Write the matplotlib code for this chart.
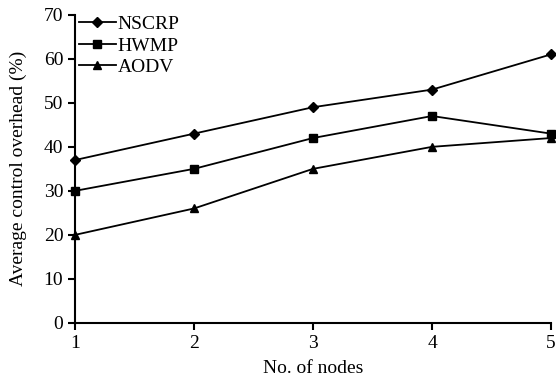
import matplotlib
matplotlib.use("Agg")
import matplotlib.pyplot as plt

nodes = [1, 2, 3, 4, 5]
nscrp = [37, 43, 49, 53, 61]
hwmp = [30, 35, 42, 47, 43]
aodv = [20, 26, 35, 40, 42]

plt.rcParams['font.family'] = ['Liberation Serif']
fig = plt.figure(figsize=(5.56, 3.79), dpi=100)
ax = fig.add_axes([0.135, 0.148, 0.856, 0.813])
ax.plot(nodes, nscrp, color='black', marker='D', markersize=5, lw=1.3, label='NSCRP')
ax.plot(nodes, hwmp, color='black', marker='s', markersize=6, lw=1.3, label='HWMP')
ax.plot(nodes, aodv, color='black', marker='^', markersize=6, lw=1.3, label='AODV')
ax.set_xlim(1, 5)
ax.set_ylim(0, 70)
ax.set_xticks(nodes)
ax.set_yticks(range(0, 71, 10))
for s in ['top', 'right']:
    ax.spines[s].set_visible(False)
for s in ['left', 'bottom']:
    ax.spines[s].set_linewidth(1.5)
ax.tick_params(direction='out', width=1.5, length=5, labelsize=14)
ax.set_xlabel('No. of nodes', fontsize=14, labelpad=6)
ax.set_ylabel('Average control overhead (%)', fontsize=14, labelpad=12)
for m in ax.lines:
    m.set_clip_on(False)
ax.legend(loc='upper left', frameon=False, fontsize=14, handlelength=1.9,
          borderaxespad=0.0, borderpad=0.2, labelspacing=0.2, handletextpad=0.1,
          bbox_to_anchor=(0.0, 1.01))
fig.savefig('out.png', dpi=100)
